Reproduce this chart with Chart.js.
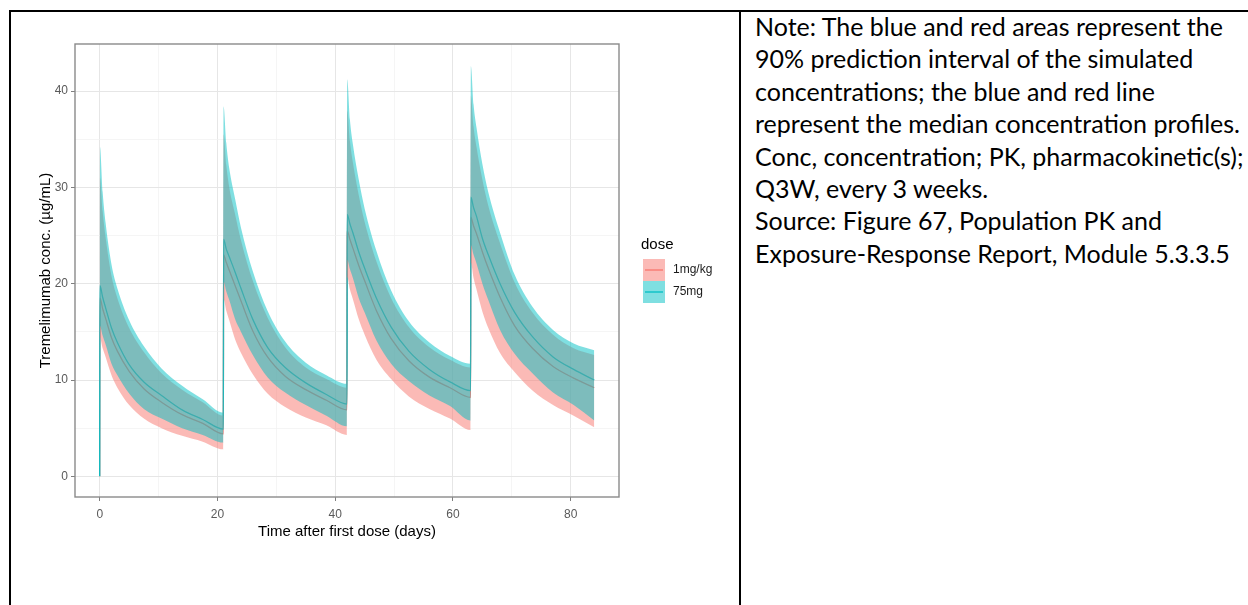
<!DOCTYPE html>
<html>
<head>
<meta charset="utf-8">
<script src="https://cdn.jsdelivr.net/npm/chart.js@4.4.1/dist/chart.umd.min.js"></script>
<style>
  html, body { margin: 0; padding: 0; background: #fff; }
  body { width: 1248px; height: 605px; position: relative; overflow: hidden; }
  #chartBox { position: absolute; left: 0; top: 0; width: 740px; height: 605px; }
  .rule { position: absolute; background: #000; z-index: 2; }
  #note {
    position: absolute; left: 755px; top: 10px;
    font-family: Lato, "Liberation Sans", sans-serif; font-size: 25px;
    line-height: 32.4px; color: #000; white-space: nowrap;
  }
</style>
</head>
<body>
<div id="chartBox"><canvas id="pkChart"></canvas></div>
<div class="rule" style="left:9px;top:10px;width:1239px;height:2px"></div>
<div class="rule" style="left:9px;top:10px;width:2px;height:595px"></div>
<div class="rule" style="left:739px;top:10px;width:2px;height:595px"></div>
<div id="note">
  Note: The blue and red areas represent the<br>
  90% prediction interval of the simulated<br>
  concentrations; the blue and red line<br>
  represent the median concentration profiles.<br>
  Conc, concentration; PK, pharmacokinetic(s);<br>
  Q3W, every 3 weeks.<br>
  Source: Figure 67, Population PK and<br>
  Exposure-Response Report, Module 5.3.3.5
</div>
<script>
// time after first dose (days), dosing every 21 days
const days = [
  0,
  0.04, 0.5, 1, 2, 3, 5, 7.5, 10.5, 14, 17.5, 21,
  21.04, 21.5, 22, 23, 24, 26, 28.5, 31.5, 35, 38.5, 42,
  42.04, 42.5, 43, 44, 45, 47, 49.5, 52.5, 56, 59.5, 63,
  63.04, 63.5, 64, 65, 66, 68, 70.5, 73.5, 77, 80.5, 84
];

// 75mg: median and 90% prediction interval (ug/mL)
const mg75Median = [
  0,
  19.8, 18.6, 17.5, 15.4, 13.9, 11.6, 9.8, 8.4, 6.9, 5.9, 4.9,
  24.6, 23.6, 22.8, 21.2, 19.5, 16.3, 13.4, 11.3, 9.7, 8.5, 7.5,
  27.2, 26.2, 25.3, 23.3, 21.6, 18.5, 15.5, 13.0, 11.1, 9.8, 8.9,
  29.0, 27.9, 27.0, 24.7, 23.0, 20.0, 17.0, 14.5, 12.4, 11.1, 10.0
];
const mg75Lower = [
  0,
  15.6, 14.6, 13.7, 11.7, 10.5, 8.6, 7.0, 6.0, 5.0, 4.3, 3.5,
  20.2, 19.2, 18.3, 16.3, 15.0, 12.6, 10.3, 8.7, 7.4, 6.3, 5.2,
  22.5, 21.5, 20.6, 18.5, 17.0, 14.1, 11.7, 9.9, 8.4, 7.3, 5.8,
  24.0, 23.0, 22.1, 20.0, 18.3, 15.2, 12.7, 10.7, 8.7, 7.4, 5.8
];
const mg75Upper = [
  0,
  34.2, 29.5, 26.3, 22.0, 19.5, 16.2, 13.5, 11.2, 9.4, 8.0, 6.6,
  38.4, 34.6, 32.0, 28.8, 25.8, 21.3, 17.2, 14.0, 11.8, 10.5, 9.6,
  41.2, 37.0, 34.5, 30.8, 27.8, 23.4, 19.3, 16.1, 13.9, 12.5, 11.7,
  42.6, 38.6, 36.2, 32.4, 29.5, 25.3, 20.9, 17.6, 15.2, 13.8, 13.1
];

// 1mg/kg: median and 90% prediction interval (ug/mL)
const mgkgMedian = [
  0,
  18.5, 17.4, 16.4, 14.4, 13.0, 10.9, 9.1, 7.7, 6.4, 5.5, 4.4,
  23.0, 22.2, 21.4, 19.8, 18.2, 15.1, 12.4, 10.4, 9.0, 7.9, 6.9,
  25.5, 24.6, 23.7, 21.9, 20.3, 17.2, 14.3, 12.0, 10.3, 9.2, 8.2,
  26.9, 26.0, 25.2, 23.3, 21.6, 18.6, 15.6, 13.3, 11.4, 10.2, 9.2
];
const mgkgLower = [
  0,
  14.4, 13.3, 12.4, 10.5, 9.2, 7.4, 6.0, 5.0, 4.2, 3.6, 2.8,
  18.4, 17.2, 16.2, 14.2, 12.8, 10.6, 8.6, 7.2, 6.1, 5.3, 4.3,
  20.7, 19.4, 18.4, 16.3, 14.7, 12.1, 10.1, 8.3, 7.0, 6.0, 4.8,
  22.2, 20.6, 19.4, 17.1, 15.4, 12.8, 10.8, 8.9, 7.4, 6.3, 5.1
];
const mgkgUpper = [
  0,
  31.0, 27.5, 24.8, 20.8, 18.5, 15.4, 12.9, 10.7, 9.0, 7.7, 6.3,
  35.5, 32.3, 30.0, 27.2, 24.5, 20.3, 16.5, 13.4, 11.3, 10.1, 9.2,
  38.0, 34.8, 32.6, 29.2, 26.4, 22.3, 18.5, 15.5, 13.4, 12.1, 11.3,
  39.5, 36.3, 34.2, 30.8, 28.1, 24.2, 20.1, 17.0, 14.7, 13.3, 12.6
];

const doseLabels = ['1mg/kg', '75mg'];
const xTickLabels = [0, 20, 40, 60, 80];
const yTickLabels = [0, 10, 20, 30, 40];

// ggplot default hues
const lineColors = ['#F8766D', '#00BFC4'];
const ribbonColors = ['rgba(248,118,109,0.5)', 'rgba(0,191,196,0.5)'];

const FONT = '"Liberation Sans", Arial, sans-serif';
const TICK_TEXT = '#5a5a5a';

const toPoints = values => days.map((d, i) => ({ x: d, y: values[i] }));

const hidden = { borderColor: 'transparent', borderWidth: 0, pointRadius: 0, fill: false };

// draw panel border on all four sides
const panelBorder = {
    id: 'panelBorder',
    afterDatasetsDraw(chart) {
        const { ctx, chartArea: a } = chart;
        ctx.save();
        ctx.strokeStyle = '#8a8a8a';
        ctx.lineWidth = 1.4;
        ctx.strokeRect(a.left, a.top, a.right - a.left, a.bottom - a.top);
        ctx.restore();
    }
};

// ggplot style legend: title + filled keys with a line across
const doseLegend = {
    id: 'doseLegend',
    afterDraw(chart) {
        const { ctx, chartArea } = chart;
        const x0 = chartArea.right + 24;
        ctx.save();
        ctx.fillStyle = '#000';
        ctx.font = '15px ' + FONT;
        ctx.textBaseline = 'alphabetic';
        ctx.fillText('dose', x0 - 2, 249);
        doseLabels.forEach((label, i) => {
            const y = 259 + i * 22;
            ctx.fillStyle = ribbonColors[i];
            ctx.fillRect(x0, y, 22, 22);
            ctx.strokeStyle = lineColors[i];
            ctx.lineWidth = 1.3;
            ctx.beginPath();
            ctx.moveTo(x0 + 2, y + 11);
            ctx.lineTo(x0 + 20, y + 11);
            ctx.stroke();
            ctx.fillStyle = '#1a1a1a';
            ctx.font = '12px ' + FONT;
            ctx.textBaseline = 'middle';
            ctx.fillText(label, x0 + 30, y + 11);
        });
        ctx.restore();
    }
};

const gridFor = labels => ({
    color: ctx => labels.includes(ctx.tick.value) ? '#e6e6e6' : '#f1f1f1',
    lineWidth: ctx => labels.includes(ctx.tick.value) ? 1 : 0.7,
    tickColor: ctx => labels.includes(ctx.tick.value) ? '#7f7f7f' : 'transparent',
    tickLength: 4
});

new Chart(document.getElementById('pkChart'), {
    type: 'line',
    data: {
        datasets: [
            { label: '1mg/kg lower', data: toPoints(mgkgLower), ...hidden, order: 0 },
            { label: '1mg/kg PI', data: toPoints(mgkgUpper), borderColor: 'transparent', borderWidth: 0,
              backgroundColor: ribbonColors[0], fill: '-1', pointRadius: 0, order: 2 },
            { label: '75mg lower', data: toPoints(mg75Lower), ...hidden, order: 0 },
            { label: '75mg PI', data: toPoints(mg75Upper), borderColor: 'transparent', borderWidth: 0,
              backgroundColor: ribbonColors[1], fill: '-1', pointRadius: 0, order: 1 },
            { label: doseLabels[0], data: toPoints(mgkgMedian), borderColor: lineColors[0],
              borderWidth: 1.3, pointRadius: 0, fill: false, order: 4 },
            { label: doseLabels[1], data: toPoints(mg75Median), borderColor: lineColors[1],
              borderWidth: 1.3, pointRadius: 0, fill: false, order: 3 }
        ]
    },
    options: {
        responsive: true,
        maintainAspectRatio: false,
        animation: false,
        layout: { padding: { top: 44, left: 0, right: 121, bottom: 48 } },
        elements: { line: { cubicInterpolationMode: 'monotone' }, point: { radius: 0 } },
        plugins: { legend: { display: false }, tooltip: { enabled: false } },
        scales: {
            x: {
                type: 'linear', min: -4.2, max: 88.2,
                afterFit: s => { s.height = 60; },
                border: { display: false },
                grid: gridFor(xTickLabels),
                ticks: {
                    stepSize: 10, includeBounds: false, autoSkip: false, maxRotation: 0, padding: 6,
                    color: TICK_TEXT, font: { family: FONT, size: 12 },
                    callback: v => xTickLabels.includes(v) ? v : ''
                },
                title: {
                    display: true, text: 'Time after first dose (days)', color: '#000',
                    font: { family: FONT, size: 15 }, padding: { top: 0, bottom: 16 }
                }
            },
            y: {
                min: -2.15, max: 44.9,
                afterFit: s => { s.width = 75; },
                border: { display: false },
                grid: gridFor(yTickLabels),
                ticks: {
                    stepSize: 5, includeBounds: false, padding: 3,
                    color: TICK_TEXT, font: { family: FONT, size: 12 },
                    callback: v => yTickLabels.includes(v) ? v : ''
                },
                title: {
                    display: true, text: 'Tremelimumab conc. (µg/mL)', color: '#000',
                    font: { family: FONT, size: 15 }, padding: { top: 37, bottom: 0 }
                }
            }
        }
    },
    plugins: [panelBorder, doseLegend]
});
</script>
</body>
</html>
